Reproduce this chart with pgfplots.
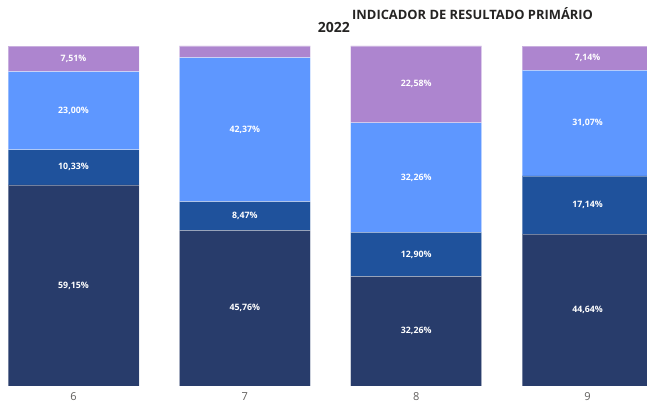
\documentclass[border=0pt]{standalone}
\usepackage{fontspec}
\setmainfont{Open Sans}
\usepackage{pgfplots}
\pgfplotsset{compat=1.18}
\definecolor{navy}{HTML}{283C6B}
\definecolor{midblue}{HTML}{1F529C}
\definecolor{lightblue}{HTML}{5E97FF}
\definecolor{lilac}{HTML}{AD85CF}
\definecolor{tickgray}{HTML}{605E5C}
\definecolor{titlegray}{HTML}{252423}

\pgfplotstableread{
x  a      b      c      d
0  59.15  10.33  23.00  7.51
1  45.76  8.47   42.37  3.40
2  32.26  12.90  32.26  22.58
3  44.64  17.14  31.07  7.14
}\data

% label positions (segment centres) and texts
\pgfplotstableread[col sep=comma]{
x,y,lab
0,29.575,{59,15\%}
0,64.315,{10,33\%}
0,80.98,{23,00\%}
0,96.235,{7,51\%}
1,22.88,{45,76\%}
1,49.995,{8,47\%}
1,75.415,{42,37\%}
2,16.13,{32,26\%}
2,38.71,{12,90\%}
2,61.29,{32,26\%}
2,88.71,{22,58\%}
3,22.32,{44,64\%}
3,53.21,{17,14\%}
3,77.315,{31,07\%}
3,96.42,{7,14\%}
}\labels

\begin{document}
\begin{tikzpicture}
\pgfplotsset{base/.style={
  scale only axis, width=647pt, height=340pt,
  xmin=-0.429, xmax=3.347, ymin=0, ymax=100,
  clip=false,
}}
\begin{axis}[base,
  ybar stacked, bar width=131pt,
  axis line style={draw=none}, major tick length=0pt,
  ytick=\empty,
  xtick={0,1,2,3}, xticklabels={6,7,8,9},
  xticklabel style={font=\fontsize{11}{13}\selectfont, text=tickgray, yshift=-3.5pt},
  every axis plot/.append style={draw=white, draw opacity=0.35, line width=0.6pt},
]
\addplot[fill=navy] table[x=x,y=a] {\data};
\addplot[fill=midblue] table[x=x,y=b] {\data};
\addplot[fill=lightblue] table[x=x,y=c] {\data};
\addplot[fill=lilac] table[x=x,y=d] {\data};
\end{axis}
\begin{axis}[base, hide axis]
\addplot[only marks, mark=none, nodes near coords, point meta=explicit symbolic,
  nodes near coords style={anchor=center, text=white, font=\bfseries\fontsize{8.8}{10}\selectfont}]
  table[x=x,y=y,meta=lab] {\labels};
\end{axis}
\node[anchor=base east, font=\bfseries\fontsize{14}{16}\selectfont, text=titlegray, inner sep=0pt] at (350pt,353pt) {2022};
\node[anchor=base west, font=\bfseries\fontsize{12.9}{15}\selectfont, text=titlegray, inner sep=0pt] at (352pt,366pt) {INDICADOR DE RESULTADO PRIMÁRIO};
\pgfresetboundingbox
\path (0pt,-23pt) rectangle (647pt,386pt);
\end{tikzpicture}
\end{document}
